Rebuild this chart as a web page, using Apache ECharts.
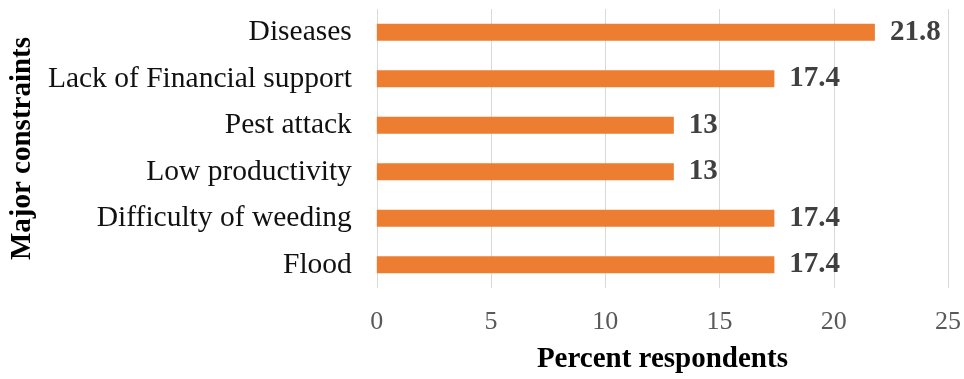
<!DOCTYPE html>
<html>
<head>
<meta charset="utf-8">
<script src="https://cdn.jsdelivr.net/npm/echarts@6/dist/echarts.min.js"></script>
<style>html,body{margin:0;padding:0;background:#fff}#c{width:964px;height:379px}</style>
</head>
<body>
<div id="c"></div>
<script>
var categories = ['Flood', 'Difficulty of weeding', 'Low productivity', 'Pest attack', 'Lack of Financial support', 'Diseases'];
var values = [17.4, 17.4, 13, 13, 17.4, 21.8];
var xTicks = [0, 5, 10, 15, 20, 25];
var xTitle = 'Percent respondents';
var yTitle = 'Major constraints';

var font = '"Liberation Serif", "Times New Roman", serif';
var chart = echarts.init(document.getElementById('c'), null, {renderer: 'canvas'});
chart.setOption({
  animation: false,
  backgroundColor: '#fff',
  grid: {left: 375, right: 16, top: 9, bottom: 89, containLabel: false},
  xAxis: {
    type: 'value',
    min: xTicks[0], max: xTicks[xTicks.length - 1], interval: xTicks[1] - xTicks[0],
    axisLine: {show: false}, axisTick: {show: false},
    splitLine: {show: true, lineStyle: {color: '#d9d9d9', width: 1}},
    axisLabel: {color: '#595959', fontFamily: font, fontSize: 26, margin: 21},
    name: xTitle, nameLocation: 'middle', nameGap: 57,
    nameTextStyle: {color: '#000', fontFamily: font, fontSize: 29, fontWeight: 'bold'}
  },
  yAxis: {
    type: 'category', data: categories,
    axisLine: {show: false}, axisTick: {show: false},
    axisLabel: {color: '#111', fontFamily: font, fontSize: 29.5, margin: 25},
    name: yTitle, nameLocation: 'middle', nameGap: 337, nameRotate: 90,
    nameTextStyle: {color: '#000', fontFamily: font, fontSize: 29, fontWeight: 'bold'}
  },
  series: [{
    type: 'bar', data: values, barWidth: 17,
    itemStyle: {color: '#ED7D31'},
    label: {show: true, position: 'right', distance: 15, color: '#404040',
      fontFamily: font, fontSize: 29, fontWeight: 'bold'}
  }]
});
</script>
</body>
</html>
